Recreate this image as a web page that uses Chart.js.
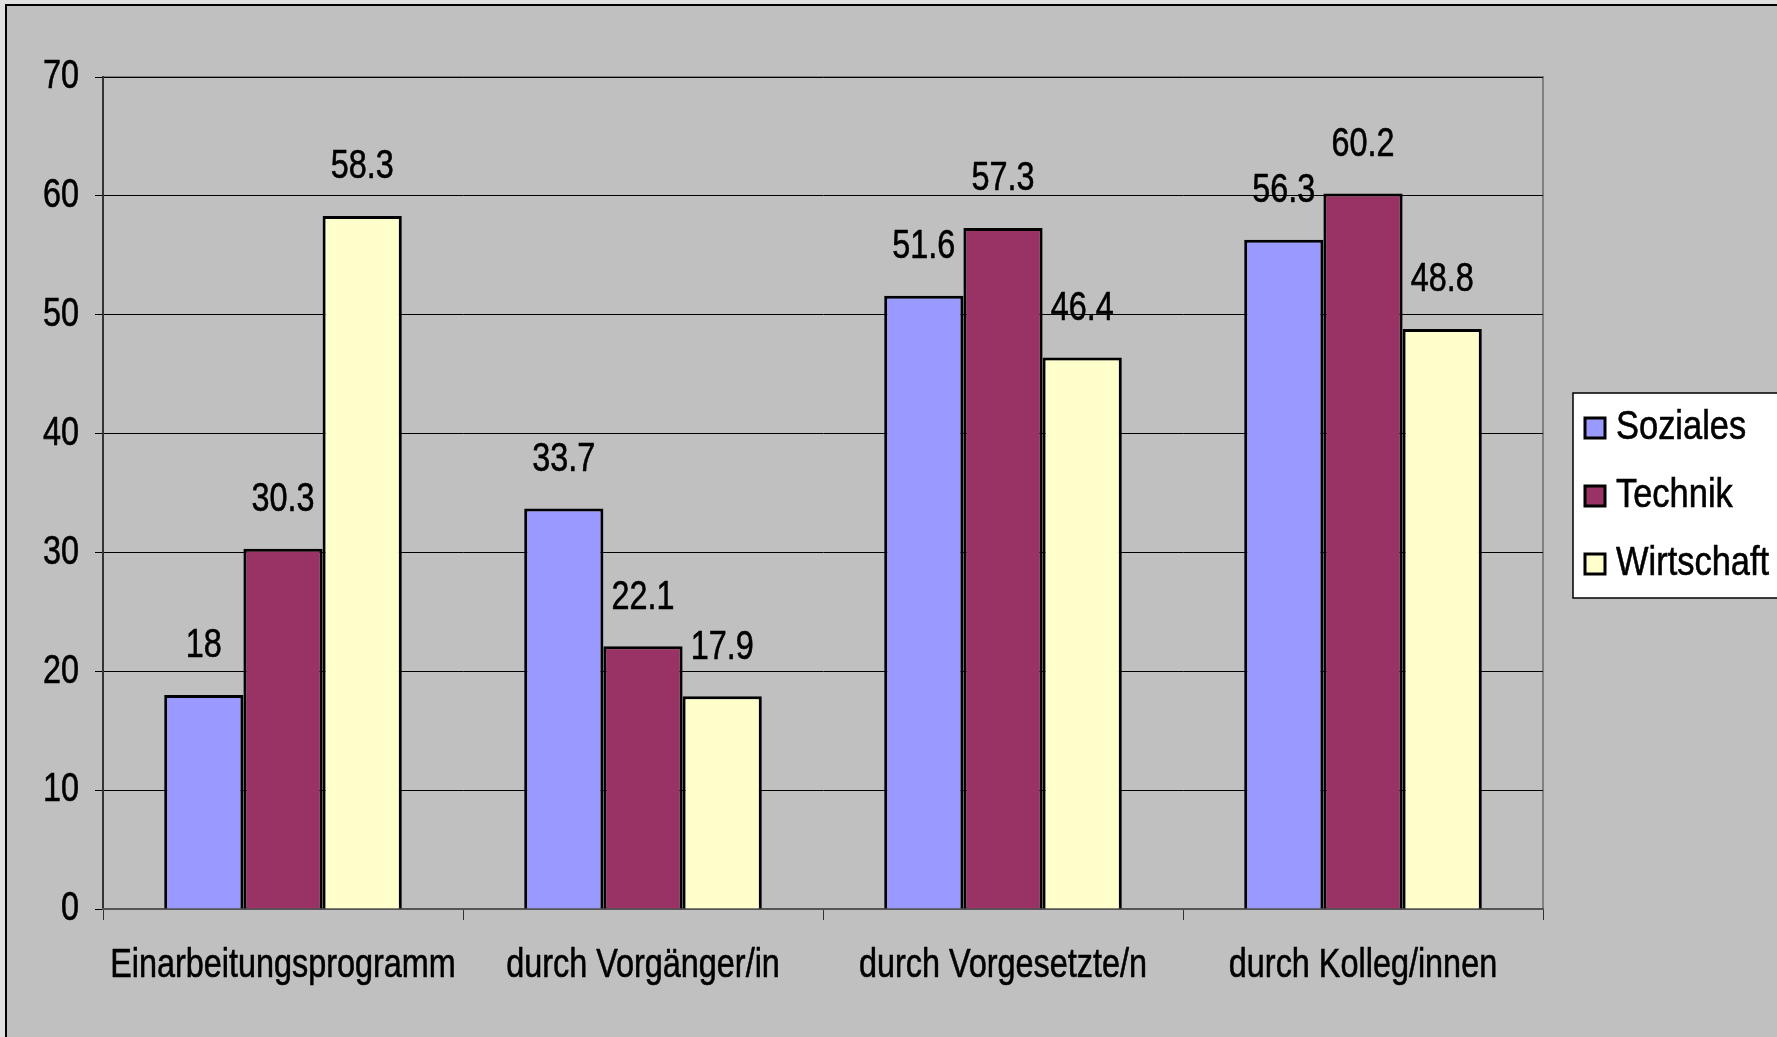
<!DOCTYPE html>
<html>
<head>
<meta charset="utf-8">
<script src="https://cdn.jsdelivr.net/npm/chart.js@4/dist/chart.umd.min.js"></script>
<style>
  html, body { margin: 0; padding: 0; background: #e0e0e0; overflow: hidden; }
  canvas { display: block; }
</style>
</head>
<body>
<canvas id="barChart" width="1777" height="1037"></canvas>
<script>
const categories = ['Einarbeitungsprogramm', 'durch Vorgänger/in', 'durch Vorgesetzte/n', 'durch Kolleg/innen'];
const seriesNames = ['Soziales', 'Technik', 'Wirtschaft'];
const soziales = [18, 33.7, 51.6, 56.3];
const technik = [30.3, 22.1, 57.3, 60.2];
const wirtschaft = [58.3, 17.9, 46.4, 48.8];
const yTicks = [0, 10, 20, 30, 40, 50, 60, 70];

const seriesColors = ['#9999ff', '#993366', '#ffffcc'];
const fontFamily = '"Liberation Sans", Arial, sans-serif';
const font = `41px ${fontFamily}`;

// Text horizontal gestaucht zeichnen (Original nutzt eine schmale Schrift)
function drawNarrow(ctx, text, x, y, align, squeeze = 0.79) {
    ctx.save();
    ctx.translate(x, y);
    ctx.scale(squeeze, 1);
    ctx.font = font;
    ctx.fillStyle = '#000';
    ctx.strokeStyle = '#000';
    ctx.lineWidth = 0.6;
    ctx.textAlign = align;
    ctx.textBaseline = 'middle';
    ctx.fillText(text, 0, 0);
    ctx.strokeText(text, 0, 0);
    ctx.restore();
}

// Hintergrund, Rahmen und Plotbereich
const backgroundPlugin = {
    id: 'background',
    beforeDraw(chart) {
        const { ctx, chartArea: a } = chart;
        ctx.save();
        ctx.fillStyle = '#e0e0e0';
        ctx.fillRect(0, 0, chart.width, chart.height);
        ctx.fillStyle = '#c0c0c0';
        ctx.fillRect(6, 5, chart.width - 6, chart.height - 5);
        ctx.strokeStyle = '#000';
        ctx.lineWidth = 2;
        ctx.beginPath();
        ctx.moveTo(6, chart.height);
        ctx.lineTo(6, 5);
        ctx.lineTo(chart.width, 5);
        ctx.stroke();
        ctx.strokeStyle = '#808080';
        ctx.lineWidth = 2;
        ctx.strokeRect(a.left, a.top, a.right - a.left, a.bottom - a.top);
        ctx.restore();
    }
};

// Achsenbeschriftungen und Werte über den Balken
const textPlugin = {
    id: 'texts',
    afterDraw(chart) {
        const { ctx, scales } = chart;
        scales.y.ticks.forEach(t => {
            drawNarrow(ctx, String(t.value), 79, scales.y.getPixelForValue(t.value), 'right');
        });
        chart.data.labels.forEach((label, i) => {
            drawNarrow(ctx, label, scales.x.getPixelForTick(i), 966, 'center');
        });
        chart.data.datasets.forEach((ds, i) => {
            chart.getDatasetMeta(i).data.forEach((bar, j) => {
                drawNarrow(ctx, String(ds.data[j]), bar.x, bar.y - 49, 'center');
            });
        });
    }
};

// Legende rechts im weißen Kasten
const legendBoxPlugin = {
    id: 'legendBox',
    afterDraw(chart) {
        const { ctx } = chart;
        const x = 1573, y = 393, w = 210, h = 205;
        ctx.save();
        ctx.fillStyle = '#fff';
        ctx.fillRect(x, y, w, h);
        ctx.strokeStyle = '#000';
        ctx.lineWidth = 1.5;
        ctx.strokeRect(x, y, w, h);
        chart.data.datasets.forEach((ds, i) => {
            const cy = 428 + i * 68;
            ctx.fillStyle = ds.backgroundColor;
            ctx.fillRect(1585, cy - 10, 20, 20);
            ctx.lineWidth = 3;
            ctx.strokeStyle = '#000';
            ctx.strokeRect(1585, cy - 10, 20, 20);
            drawNarrow(ctx, ds.label, 1616, cy, 'left', 0.84);
        });
        ctx.restore();
    }
};

const seriesValues = [soziales, technik, wirtschaft];

new Chart(document.getElementById('barChart').getContext('2d'), {
    type: 'bar',
    data: {
        labels: categories,
        datasets: seriesNames.map((name, i) => ({
            label: name,
            data: seriesValues[i],
            backgroundColor: seriesColors[i],
            borderColor: '#000',
            borderWidth: 3,
            borderSkipped: 'bottom',
            categoryPercentage: 0.66,
            barPercentage: 1.0,
        }))
    },
    options: {
        responsive: false,
        animation: false,
        layout: { padding: { left: 6, top: 77, right: 234, bottom: 0 } },
        plugins: {
            legend: { display: false },
            tooltip: { enabled: false },
        },
        scales: {
            y: {
                min: 0,
                max: 70,
                afterFit: (s) => { s.width = 97; },
                afterBuildTicks: (s) => { s.ticks = yTicks.map(v => ({ value: v })); },
                ticks: { display: false },
                grid: {
                    color: '#000',
                    lineWidth: 1,
                    tickLength: 8,
                    tickColor: '#000',
                },
                border: { color: '#333', width: 2 },
            },
            x: {
                afterFit: (s) => { s.height = 128; },
                ticks: { display: false, autoSkip: false, maxRotation: 0 },
                grid: {
                    offset: true,
                    drawOnChartArea: false,
                    tickLength: 11,
                    tickColor: '#333',
                },
                border: { color: '#555', width: 2 },
            }
        }
    },
    plugins: [backgroundPlugin, textPlugin, legendBoxPlugin]
});
</script>
</body>
</html>
